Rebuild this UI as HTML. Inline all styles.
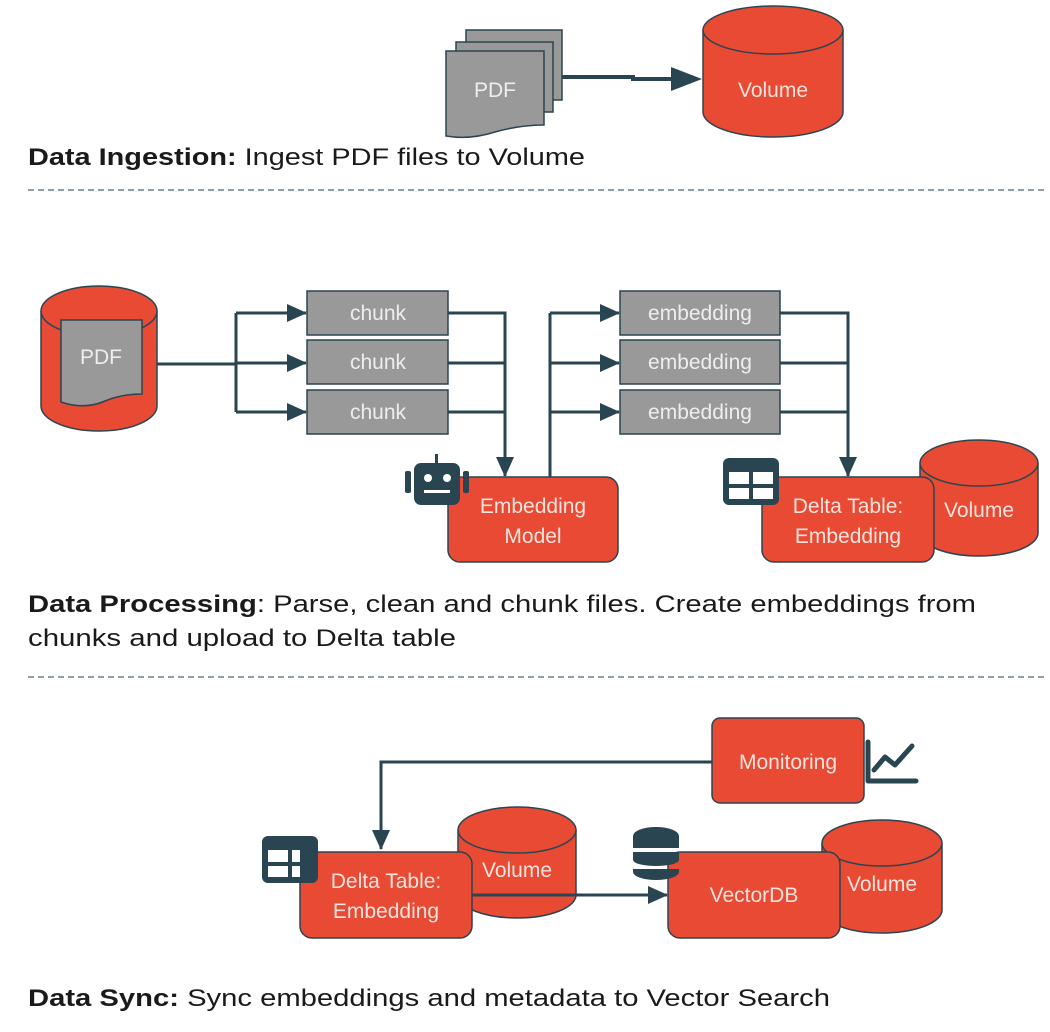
<!DOCTYPE html>
<html><head><meta charset="utf-8"><style>
html,body{margin:0;padding:0;background:#fff;}
svg{display:block;}
text{font-family:"Liberation Sans",sans-serif;}
</style></head><body>
<svg width="1050" height="1032" viewBox="0 0 1050 1032" xmlns="http://www.w3.org/2000/svg">
<defs>
<marker id="ahm" markerWidth="20" markerHeight="18" refX="19" refY="9" orient="auto" markerUnits="userSpaceOnUse" viewBox="0 0 20 18">
<path d="M0,0 L20,9 L0,18 z" fill="#2a4552"/></marker>
</defs>
<g stroke="#2a4552" stroke-width="1.5">
<rect x="466" y="30" width="96" height="70" fill="#999"/>
<rect x="456" y="42" width="97" height="70" fill="#999"/>
<path d="M446,51 H544 V125 Q520,125 495,132 Q470,140 446,136 Z" fill="#999"/>
<path d="M703,30 V112 A70,25 0 0 0 843,112 V30" fill="#e84a33"/>
<ellipse cx="773" cy="30" rx="70" ry="24" fill="#e84a33"/>
</g>
<polyline points="562,77 633,77 633,79 672,79" fill="none" stroke="#2a4552" stroke-width="4"/>
<path d="M671,67 L702,79 L671,91 Z" fill="#2a4552"/>
<text x="495" y="97" font-size="21" fill="#eee" text-anchor="middle">PDF</text>
<text x="773" y="97" font-size="21" fill="#f7e3de" text-anchor="middle">Volume</text>
<text x="28" y="165" font-size="24" fill="#1a1a1a" textLength="557" lengthAdjust="spacingAndGlyphs"><tspan font-weight="bold">Data Ingestion:</tspan> Ingest PDF files to Volume</text>
<line x1="28" y1="190" x2="1046" y2="190" stroke="#6b7f8a" stroke-width="1.5" stroke-dasharray="6,4"/>

<g stroke="#2a4552" stroke-width="1.5">
<path d="M41,311 V406 A58,25 0 0 0 157,406 V311" fill="#e84a33"/>
<ellipse cx="99" cy="311" rx="58" ry="25" fill="#e84a33"/>
<path d="M61,320 H142 V394 Q122,394 105,401 Q84,410 61,402 Z" fill="#999"/>
</g>
<text x="101" y="364" font-size="21" fill="#eee" text-anchor="middle">PDF</text>
<g fill="none" stroke="#2a4552" stroke-width="3">
<line x1="157" y1="364" x2="236" y2="364"/>
<line x1="236" y1="313" x2="236" y2="412"/>
<line x1="236" y1="313" x2="306" y2="313" marker-end="url(#ahm)"/>
<line x1="236" y1="363" x2="306" y2="363" marker-end="url(#ahm)"/>
<line x1="236" y1="412" x2="306" y2="412" marker-end="url(#ahm)"/>
<polyline points="448,313 505,313 505,476" marker-end="url(#ahm)"/>
<line x1="448" y1="363" x2="505" y2="363"/>
<line x1="448" y1="412" x2="505" y2="412"/>
<line x1="550" y1="477" x2="550" y2="313"/>
<line x1="550" y1="313" x2="619" y2="313" marker-end="url(#ahm)"/>
<line x1="550" y1="363" x2="619" y2="363" marker-end="url(#ahm)"/>
<line x1="550" y1="412" x2="619" y2="412" marker-end="url(#ahm)"/>
<polyline points="780,313 848,313 848,476" marker-end="url(#ahm)"/>
<line x1="780" y1="363" x2="848" y2="363"/>
<line x1="780" y1="412" x2="848" y2="412"/>
</g>
<g stroke="#2a4552" stroke-width="1.5" fill="#999">
<rect x="307" y="291" width="141" height="44"/>
<rect x="307" y="340" width="141" height="44"/>
<rect x="307" y="390" width="141" height="44"/>
<rect x="620" y="291" width="160" height="44"/>
<rect x="620" y="340" width="160" height="44"/>
<rect x="620" y="390" width="160" height="44"/>
</g>
<g font-size="21" fill="#eee" text-anchor="middle">
<text x="378" y="320">chunk</text><text x="378" y="369">chunk</text><text x="378" y="419">chunk</text>
<text x="700" y="320">embedding</text><text x="700" y="369">embedding</text><text x="700" y="419">embedding</text>
</g>
<rect x="448" y="477" width="170" height="85" rx="12" fill="#e84a33" stroke="#2a4552" stroke-width="1.5"/>
<text x="533" y="513" font-size="21" fill="#f7e3de" text-anchor="middle">Embedding</text>
<text x="533" y="543" font-size="21" fill="#f7e3de" text-anchor="middle">Model</text>
<g fill="#2a4552">
<rect x="435" y="454" width="3" height="10"/>
<rect x="414" y="463" width="46" height="42" rx="7"/>
<rect x="405" y="471" width="6" height="22" rx="2"/>
<rect x="463" y="471" width="6" height="22" rx="2"/>
</g>
<circle cx="428" cy="478" r="4" fill="#fff"/><circle cx="447" cy="478" r="4" fill="#fff"/>
<rect x="424" y="490" width="26" height="3" fill="#fff"/>
<g stroke="#2a4552" stroke-width="1.5">
<path d="M920,463 V533 A59,23 0 0 0 1038,533 V463" fill="#e84a33"/>
<ellipse cx="979" cy="463" rx="59" ry="23" fill="#e84a33"/>
</g>
<rect x="762" y="477" width="172" height="85" rx="12" fill="#e84a33" stroke="#2a4552" stroke-width="1.5"/>
<text x="848" y="513" font-size="21" fill="#f7e3de" text-anchor="middle">Delta Table:</text>
<text x="848" y="543" font-size="21" fill="#f7e3de" text-anchor="middle">Embedding</text>
<text x="979" y="517" font-size="21" fill="#f7e3de" text-anchor="middle">Volume</text>
<rect x="723" y="458" width="56" height="47" rx="6" fill="#2a4552"/>
<g fill="#fff"><rect x="729" y="472" width="20" height="12"/><rect x="753" y="472" width="20" height="12"/><rect x="729" y="488" width="20" height="11"/><rect x="753" y="488" width="20" height="11"/></g>
<text x="28" y="612" font-size="24" fill="#1a1a1a" textLength="948" lengthAdjust="spacingAndGlyphs"><tspan font-weight="bold">Data Processing</tspan>: Parse, clean and chunk files. Create embeddings from</text>
<text x="28" y="646" font-size="24" fill="#1a1a1a" textLength="428" lengthAdjust="spacingAndGlyphs">chunks and upload to Delta table</text>
<line x1="28" y1="677" x2="1046" y2="677" stroke="#6b7f8a" stroke-width="1.5" stroke-dasharray="6,4"/>

<polyline points="712,762 381,762 381,849" fill="none" stroke="#2a4552" stroke-width="3" marker-end="url(#ahm)"/>
<rect x="712" y="718" width="152" height="85" rx="8" fill="#e84a33" stroke="#2a4552" stroke-width="1.5"/>
<text x="788" y="769" font-size="21" fill="#f7e3de" text-anchor="middle">Monitoring</text>
<g fill="none" stroke="#2a4552" stroke-width="5" stroke-linecap="round" stroke-linejoin="round">
<polyline points="868,742 868,781 916,781"/>
<polyline points="874,770 885,757 895,765 912,746"/>
</g>
<g stroke="#2a4552" stroke-width="1.5">
<path d="M458,830 V895 A59,23 0 0 0 576,895 V830" fill="#e84a33"/>
<ellipse cx="517" cy="830" rx="59" ry="23" fill="#e84a33"/>
<path d="M822,843 V910 A60,23 0 0 0 942,910 V843" fill="#e84a33"/>
<ellipse cx="882" cy="843" rx="60" ry="23" fill="#e84a33"/>
</g>
<text x="517" y="877" font-size="21" fill="#f7e3de" text-anchor="middle">Volume</text>
<text x="882" y="891" font-size="21" fill="#f7e3de" text-anchor="middle">Volume</text>
<rect x="300" y="852" width="172" height="86" rx="12" fill="#e84a33" stroke="#2a4552" stroke-width="1.5"/>
<text x="386" y="888" font-size="21" fill="#f7e3de" text-anchor="middle">Delta Table:</text>
<text x="386" y="918" font-size="21" fill="#f7e3de" text-anchor="middle">Embedding</text>
<rect x="262" y="836" width="56" height="47" rx="6" fill="#2a4552"/>
<g fill="#fff"><rect x="268" y="850" width="20" height="12"/><rect x="292" y="850" width="8" height="12"/><rect x="268" y="866" width="20" height="11"/><rect x="292" y="866" width="8" height="11"/></g>
<line x1="472" y1="895" x2="667" y2="895" stroke="#2a4552" stroke-width="3" marker-end="url(#ahm)"/>
<rect x="668" y="852" width="172" height="86" rx="12" fill="#e84a33" stroke="#2a4552" stroke-width="1.5"/>
<text x="754" y="902" font-size="21" fill="#f7e3de" text-anchor="middle">VectorDB</text>
<g fill="#2a4552">
<ellipse cx="656" cy="836" rx="23" ry="9"/>
<rect x="633" y="836" width="46" height="12"/>
<path d="M633,852 H679 V860 A23,6 0 0 1 633,860 Z"/>
<path d="M633,869 H679 V872 A23,8 0 0 1 633,872 Z"/>
</g>
<text x="28" y="1006" font-size="24" fill="#1a1a1a" textLength="802" lengthAdjust="spacingAndGlyphs"><tspan font-weight="bold">Data Sync:</tspan> Sync embeddings and metadata to Vector Search</text>
</svg>
</body></html>
